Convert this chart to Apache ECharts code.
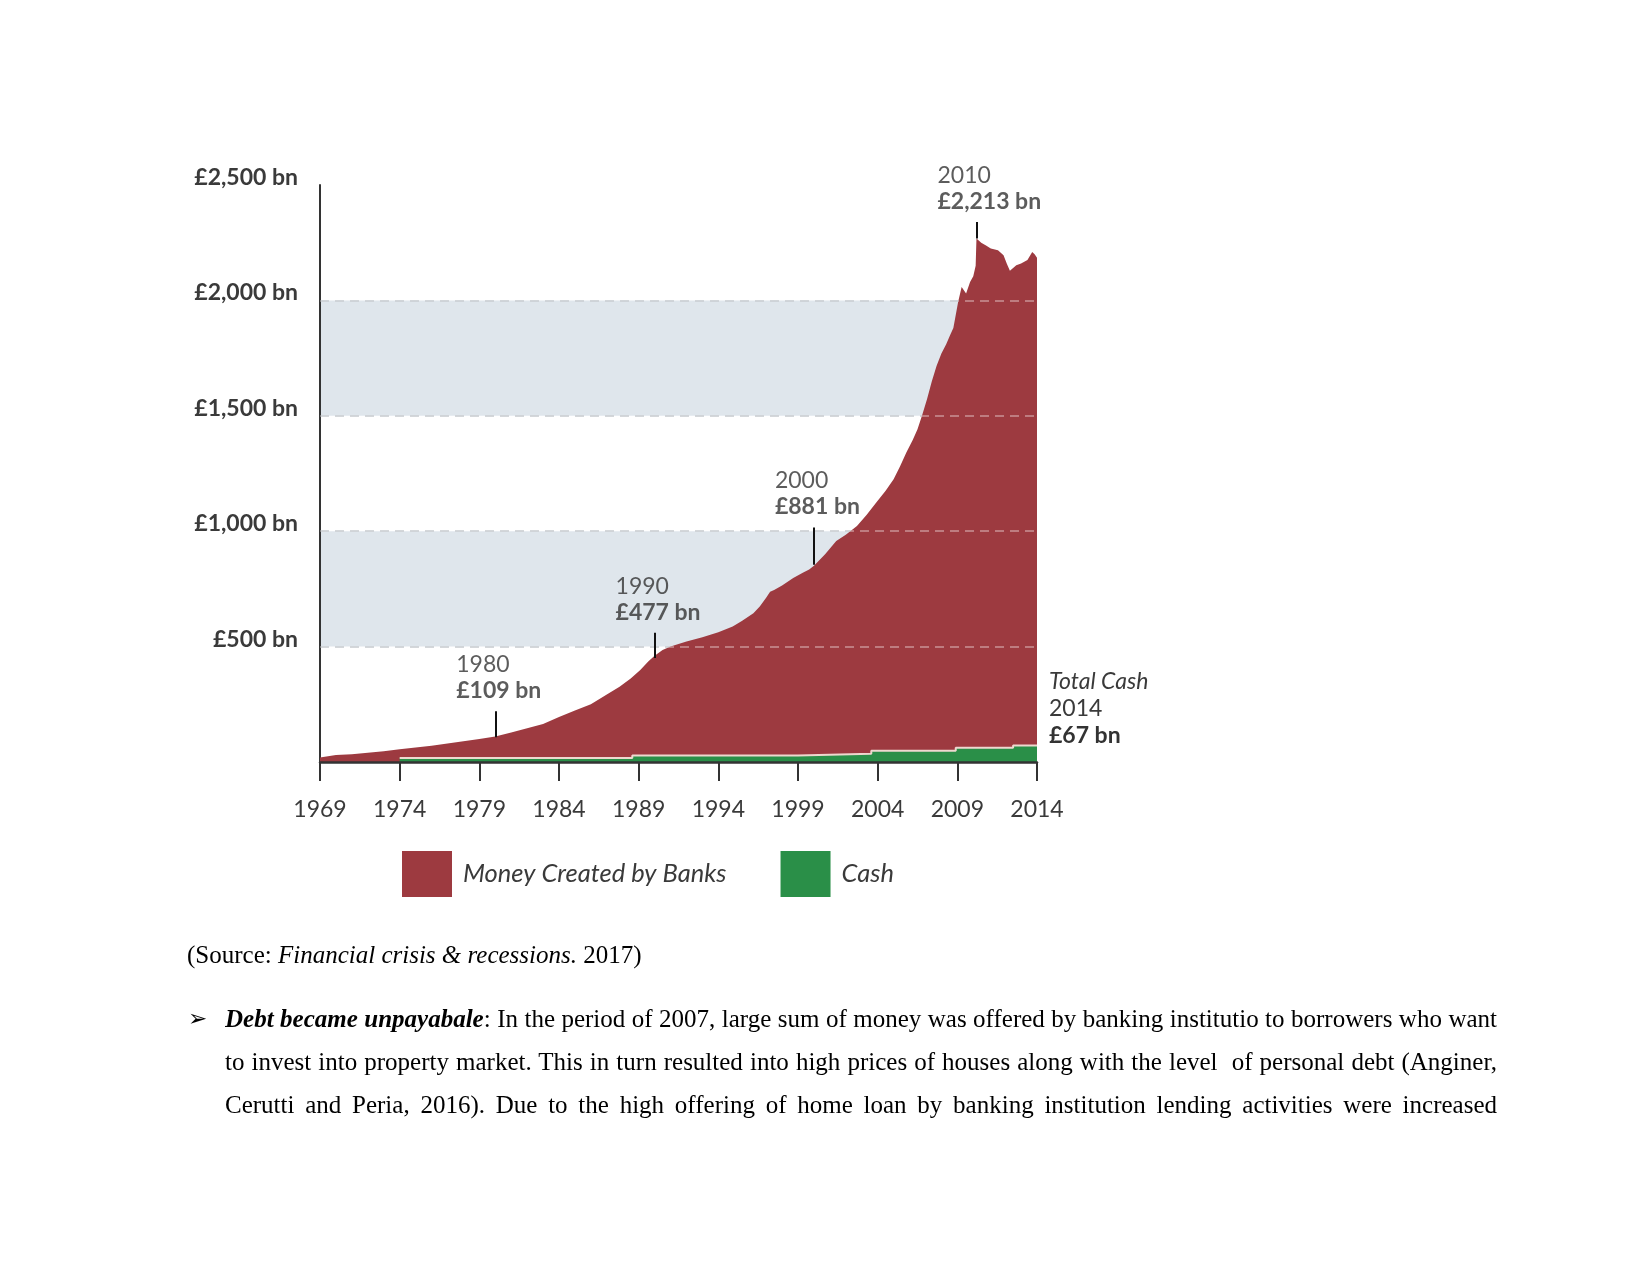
<!DOCTYPE html>
<html><head><meta charset="utf-8">
<script src="https://cdn.jsdelivr.net/npm/echarts@6/dist/echarts.min.js"></script>
<style>
html,body{margin:0;padding:0;background:#fff;}
#chart{position:absolute;left:0;top:0;width:1650px;height:1275px;}
.txt{position:absolute;font-family:'Liberation Serif','Times New Roman',serif;font-size:25px;color:#000;line-height:43px;height:43px;}
.just{left:225px;width:1272px;text-align:justify;text-align-last:justify;overflow:hidden;}
.bul{position:absolute;left:188px;font-family:'DejaVu Sans',sans-serif;font-size:23px;line-height:43px;height:43px;color:#000;}
</style></head><body>
<div id="chart"></div>
<div class="txt" style="left:187px;top:933px;white-space:nowrap;">(Source: <i>Financial crisis &amp; recessions.</i> 2017)</div>
<div class="bul" style="top:997px;">&#10146;</div>
<div class="txt just" style="top:997px;"><b><i>Debt became unpayabale</i></b>: In the period of 2007, large sum of money was offered by banking institutio to borrowers who want</div>
<div class="txt just" style="top:1040px;">to invest into property market. This in turn resulted into high prices of houses along with the level&nbsp; of personal debt (Anginer,</div>
<div class="txt just" style="top:1083px;">Cerutti and Peria, 2016). Due to the high offering of home loan by banking institution lending activities were increased</div>
<script>
// ---------- DATA ----------
const BASE_YEAR = 1969;
const xTickLabels = ['1969','1974','1979','1984','1989','1994','1999','2004','2009','2014'];
const yTickLabels = ['', '£500 bn', '£1,000 bn', '£1,500 bn', '£2,000 bn', '£2,500 bn'];

const moneyYears = [1969.0,1970.0,1971.0,1972.0,1973.0,1974.0,1975.0,1976.0,1977.0,1978.0,1979.0,1980.0,1981.0,1982.0,1983.0,1984.0,1985.0,1986.0,1987.0,1987.8,1988.5,1989.1,1989.6,1990.0,1990.5,1991.0,1992.0,1993.0,1993.5,1994.0,1994.9,1995.5,1996.2,1996.6,1997.0,1997.25,1997.5,1998.0,1998.7,1999.3,1999.7,2000.0,2000.7,2001.4,2002.0,2002.7,2003.3,2003.9,2004.5,2005.0,2005.4,2005.8,2006.2,2006.5,2006.8,2007.1,2007.4,2007.7,2008.0,2008.3,2008.55,2008.75,2009.05,2009.27,2009.55,2009.8,2010.0,2010.15,2010.2,2010.5,2010.8,2011.1,2011.55,2011.9,2012.1,2012.3,2012.5,2012.7,2013.0,2013.2,2013.4,2013.7,2013.85,2014.0];
const moneyValues = [20,30,34,40,47,55,63,70,80,90,100,111,128,146,165,195,223,250,292,326,362,399,435,460,485,500,522,540,551,562,587,612,645,674,712,738,745,765,797,820,834,850,900,957,985,1022,1070,1123,1175,1225,1280,1341,1395,1442,1505,1573,1650,1717,1770,1810,1850,1880,1993,2058,2030,2080,2105,2150,2268,2250,2238,2225,2217,2196,2160,2128,2140,2152,2160,2168,2175,2210,2200,2185];

const cashYears = [1974, 1988.6, 1999, 2003.6, 2008.9, 2012.5, 2014];
const cashValues = [17, 28, 36, 49, 62, 72, 72];

const annYears = [1980, 1990, 2000, 2010.2];
const annYearText = ['1980', '1990', '2000', '2010'];
const annValueText = ['£109 bn', '£477 bn', '£881 bn', '£2,213 bn'];
const annLineLow = [107, 451, 855, 2268];
const annLineHigh = [220, 560, 1016, 2340];

const gridValues = [500, 1000, 1500, 2000];
const cashLabelLines = ['Total Cash', '2014', '£67 bn'];
const seriesNames = ['Money Created by Banks', 'Cash'];

// ---------- STYLE ----------
const RED = '#9d3a40';
const GREEN = '#2a8f48';
const TXT = '#3a3a3a';
const FONT = 'Lato';

const toX = y => +(y - BASE_YEAR).toFixed(3);
const moneyData = moneyYears.map((y, i) => [toX(y), moneyValues[i]]);
const cashData = cashYears.map((y, i) => [toX(y), cashValues[i]]);
const annData = annYears.map((y, i) => [toX(y), annLineHigh[i]]);

const chart = echarts.init(document.getElementById('chart'), null, {renderer: 'canvas'});
const option = {
  animation: false,
  backgroundColor: '#fff',
  textStyle: {fontFamily: FONT},
  grid: {left: 320, top: 185, width: 717, height: 577},
  xAxis: {
    type: 'value', min: 0, max: 45, interval: 5, z: 10,
    axisLine: {show: true, onZero: false, lineStyle: {color: '#333', width: 2.5}},
    axisTick: {show: true, length: 19, lineStyle: {color: '#333', width: 2}},
    axisLabel: {margin: 36, fontSize: 23, color: TXT, fontFamily: FONT,
      formatter: v => xTickLabels[Math.round(v / 5)]},
    splitLine: {show: false}
  },
  yAxis: {
    type: 'value', min: 0, max: 2500, interval: 500,
    axisLine: {show: true, lineStyle: {color: '#333', width: 2}},
    axisTick: {show: false},
    axisLabel: {margin: 22, fontSize: 23, fontWeight: 'bold', color: TXT, fontFamily: FONT,
      verticalAlign: 'bottom', lineHeight: 15,
      formatter: v => yTickLabels[Math.round(v / 500)]},
    splitLine: {show: true, showMinLine: false, showMaxLine: false,
      lineStyle: {type: [9, 6], color: '#a9b0b7', width: 1.5}},
    splitArea: {show: true, areaStyle: {color: ['rgba(255,255,255,0)', '#dfe6ec']}}
  },
  legend: {
    left: 397, top: 846, itemWidth: 50, itemHeight: 46, itemGap: 54, icon: 'rect',
    selectedMode: false,
    data: [{name: seriesNames[0], itemStyle: {color: RED}}, {name: seriesNames[1], itemStyle: {color: GREEN}}],
    textStyle: {fontFamily: FONT, fontStyle: 'italic', fontSize: 25.5, color: TXT, padding: [0, 0, 0, 6]}
  },
  series: [
    {
      name: seriesNames[0], type: 'line', data: moneyData, symbol: 'none', z: 2, silent: true,
      lineStyle: {width: 0}, itemStyle: {color: RED},
      areaStyle: {color: RED, opacity: 1}
    },
    {
      name: seriesNames[1], type: 'line', step: 'end', data: cashData, symbol: 'none', z: 3, silent: true,
      lineStyle: {color: '#eed8cf', width: 2}, itemStyle: {color: GREEN},
      areaStyle: {color: GREEN, opacity: 1},
      markLine: {
        silent: true, symbol: ['none', 'none'], label: {show: false},
        lineStyle: {type: [9, 6], color: 'rgba(255,255,255,0.45)', width: 1.5},
        data: gridValues.map(v => ({yAxis: v}))
      },
      endLabel: {
        show: true, distance: 12, offset: [0, -37],
        formatter: () => '{i|' + cashLabelLines[0] + '}\n{r|' + cashLabelLines[1] + '}\n{b|' + cashLabelLines[2] + '}',
        rich: {
          i: {fontFamily: FONT, fontStyle: 'italic', fontSize: 23, color: TXT, lineHeight: 27, align: 'left'},
          r: {fontFamily: FONT, fontSize: 23, color: TXT, lineHeight: 27, align: 'left'},
          b: {fontFamily: FONT, fontSize: 23, fontWeight: 'bold', color: '#333', lineHeight: 27, align: 'left'}
        }
      }
    },
    {
      name: 'annotations', type: 'scatter', data: annData, symbolSize: 1, z: 5, silent: true,
      itemStyle: {color: 'rgba(0,0,0,0)'},
      label: {
        show: true, position: 'top', distance: 7, align: 'left', offset: [-39, 0],
        formatter: p => '{y|' + annYearText[p.dataIndex] + '}\n{v|' + annValueText[p.dataIndex] + '}',
        rich: {
          y: {fontFamily: FONT, fontSize: 23, color: '#333', lineHeight: 26, align: 'left'},
          v: {fontFamily: FONT, fontSize: 23, fontWeight: 'bold', color: '#333', lineHeight: 26, align: 'left'}
        }
      },
      markLine: {
        silent: true, symbol: ['none', 'none'], label: {show: false},
        lineStyle: {type: 'solid', color: '#111', width: 2},
        data: annYears.map((y, i) => [{coord: [toX(y), annLineLow[i]]}, {coord: [toX(y), annLineHigh[i]]}])
      }
    }
  ]
};
chart.setOption(option);
</script>
</body></html>
